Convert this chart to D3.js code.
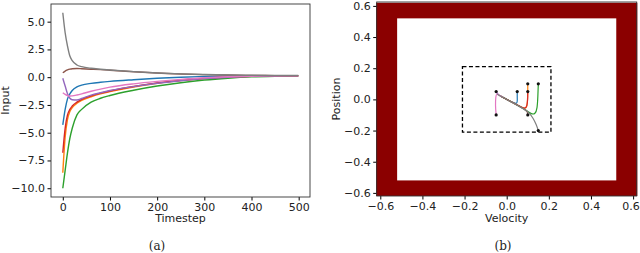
<!DOCTYPE html>
<html>
<head>
<meta charset="utf-8">
<script src="https://cdn.jsdelivr.net/npm/d3@7"></script>
<style>
  body { margin: 0; background: #fff; }
  svg { display: block; }
  .tick text { font-family: "DejaVu Sans", sans-serif; font-size: 11px; fill: #222; }
  .lbl { font-family: "DejaVu Sans", sans-serif; font-size: 11px; fill: #222; }
  .cap { font-family: "DejaVu Serif", serif; font-size: 12px; fill: #222; }
</style>
</head>
<body>
<svg id="fig" width="640" height="253"></svg>
<script>
// ---- panel (a): input over timesteps
const steps = [0, 5, 10, 15, 20, 30, 40, 60, 80, 100, 150, 200, 250, 300, 350, 400, 450, 499];
const inBlue   = [-4.3, -2.9, -1.95, -1.5, -1.2, -0.88, -0.72, -0.56, -0.46, -0.38, -0.23, -0.1, 0.0, 0.06, 0.1, 0.12, 0.13, 0.14];
const inOrange = [-8.6, -5.4, -3.8, -3.1, -2.75, -2.35, -2.08, -1.76, -1.5, -1.3, -0.88, -0.55, -0.31, -0.13, 0.0, 0.08, 0.11, 0.13];
const inGreen  = [-10.0, -8.4, -6.8, -5.5, -4.6, -3.4, -2.9, -2.25, -1.9, -1.65, -1.18, -0.8, -0.5, -0.26, -0.09, 0.03, 0.09, 0.12];
const inRed    = [-6.8, -4.6, -3.4, -2.9, -2.6, -2.25, -2.0, -1.68, -1.44, -1.24, -0.84, -0.51, -0.29, -0.11, 0.02, 0.08, 0.11, 0.13];
const inPurple = [-0.1, -0.8, -1.5, -1.9, -2.03, -2.05, -1.92, -1.62, -1.4, -1.2, -0.85, -0.55, -0.32, -0.13, 0.0, 0.07, 0.11, 0.13];
const inBrown  = [0.4, 0.55, 0.65, 0.72, 0.76, 0.78, 0.76, 0.72, 0.68, 0.63, 0.49, 0.37, 0.29, 0.23, 0.19, 0.16, 0.14, 0.13];
const inPink   = [-1.4, -1.55, -1.65, -1.7, -1.68, -1.6, -1.5, -1.27, -1.07, -0.9, -0.6, -0.38, -0.2, -0.05, 0.04, 0.09, 0.12, 0.13];
const inGray   = [5.8, 4.0, 2.8, 1.9, 1.5, 1.1, 0.95, 0.8, 0.72, 0.65, 0.5, 0.38, 0.3, 0.24, 0.2, 0.17, 0.15, 0.15];
const inTicksX = [0, 100, 200, 300, 400, 500];
const inTicksY = [5.0, 2.5, 0.0, -2.5, -5.0, -7.5, -10.0];

// ---- panel (b): phase trajectories [velocity, position]
const trBlue   = [[0.05, 0.05], [0.05, 0.0], [0.051, -0.03], [0.03, -0.022], [-0.03, 0.022]];
const trOrange = [[0.1, 0.1], [0.1, 0.02], [0.097, -0.045], [0.09, -0.064], [0.05, -0.036], [-0.03, 0.022]];
const trGreen  = [[0.15, 0.1], [0.148, 0.02], [0.145, -0.06], [0.135, -0.095], [0.118, -0.095], [0.095, -0.072], [0.05, -0.036], [-0.03, 0.022]];
const trRed    = [[0.1, 0.05], [0.1, 0.0], [0.096, -0.045], [0.088, -0.063], [0.05, -0.036], [-0.03, 0.022]];
const trPurple = [[-0.05, 0.05], [-0.04, 0.03], [-0.03, 0.022]];
const trBrown  = [[0.1, -0.1], [0.1, -0.085], [0.092, -0.068], [0.05, -0.036], [-0.03, 0.022]];
const trPink   = [[-0.05, -0.1], [-0.054, -0.04], [-0.052, 0.02], [-0.048, 0.038], [-0.035, 0.027], [-0.02, 0.015]];
const trGray   = [[0.15, -0.2], [0.14, -0.16], [0.125, -0.12], [0.108, -0.088], [0.09, -0.067], [0.0, 0.0], [-0.045, 0.033]];
const startVel = [-0.05, -0.05, 0.05, 0.1, 0.1, 0.1, 0.15, 0.15];
const startPos = [0.05, -0.1, 0.05, 0.1, 0.05, -0.1, 0.1, -0.2];
const phTicks = [-0.6, -0.4, -0.2, 0.0, 0.2, 0.4, 0.6];
const wallOuter = 0.62, wallInner = 0.52, dashBox = 0.21;

const colors = ["#1f77b4", "#ff7f0e", "#2ca02c", "#d62728", "#9467bd", "#8c564b", "#e377c2", "#7f7f7f"];
const inSeries = [inBlue, inOrange, inGreen, inRed, inPurple, inBrown, inPink, inGray];
const trSeries = [trBlue, trOrange, trGreen, trRed, trPurple, trBrown, trPink, trGray];

const fmt = d => d3.format(".1f")(d).replace("-", "\u2212");
const svg = d3.select("#fig");

// ===== (a)
const xa = d3.scaleLinear().domain([-25, 524]).range([51, 310]);
const ya = d3.scaleLinear().domain([-10.79, 6.59]).range([197, 4]);

const ga = svg.append("g");
const lineA = d3.line().x((d, i) => xa(steps[i])).y(d => ya(d)).curve(d3.curveMonotoneX);
inSeries.forEach((s, k) => {
  ga.append("path").attr("d", lineA(s)).attr("fill", "none")
    .attr("stroke", colors[k]).attr("stroke-width", 1.4);
});

ga.append("g").attr("transform", "translate(0,197)")
  .call(d3.axisBottom(xa).tickValues(inTicksX).tickSize(3.5).tickPadding(2.5).tickFormat(d3.format("d")));
ga.append("g").attr("transform", "translate(51,0)")
  .call(d3.axisLeft(ya).tickValues(inTicksY).tickSize(3.5).tickPadding(2.5).tickFormat(fmt));
ga.selectAll(".domain").remove();
ga.append("rect").attr("x", 51).attr("y", 4).attr("width", 259).attr("height", 193)
  .attr("fill", "none").attr("stroke", "#333").attr("stroke-width", 0.9);

ga.append("text").attr("class", "lbl").attr("x", 180.5).attr("y", 222)
  .attr("text-anchor", "middle").text("Timestep");
ga.append("text").attr("class", "lbl").attr("transform", "translate(9,100.5) rotate(-90)")
  .attr("text-anchor", "middle").text("Input");
ga.append("text").attr("class", "cap").attr("x", 157).attr("y", 250)
  .attr("text-anchor", "middle").text("(a)");

// ===== (b)
const xb = d3.scaleLinear().domain([-0.617, 0.617]).range([376.7, 636.7]);
const yb = d3.scaleLinear().domain([-0.62, 0.625]).range([196, 2]);
const gb = svg.append("g");

gb.append("rect").attr("x", xb(-wallOuter)).attr("y", yb(wallOuter))
  .attr("width", xb(wallOuter) - xb(-wallOuter)).attr("height", yb(-wallOuter) - yb(wallOuter))
  .attr("fill", "#8b0000");
gb.append("rect").attr("x", xb(-wallInner)).attr("y", yb(wallInner))
  .attr("width", xb(wallInner) - xb(-wallInner)).attr("height", yb(-wallInner) - yb(wallInner))
  .attr("fill", "#fff");
gb.append("rect").attr("x", xb(-dashBox)).attr("y", yb(dashBox))
  .attr("width", xb(dashBox) - xb(-dashBox)).attr("height", yb(-dashBox) - yb(dashBox))
  .attr("fill", "none").attr("stroke", "#000").attr("stroke-width", 1.3).attr("stroke-dasharray", "4,2.5");

const lineB = d3.line().x(d => xb(d[0])).y(d => yb(d[1])).curve(d3.curveBasis);
trSeries.forEach((s, k) => {
  gb.append("path").attr("d", lineB(s)).attr("fill", "none")
    .attr("stroke", colors[k]).attr("stroke-width", 1.2);
});
gb.selectAll("circle.start").data(startVel).enter().append("circle")
  .attr("cx", d => xb(d)).attr("cy", (d, i) => yb(startPos[i])).attr("r", 1.6).attr("fill", "#111");

const xAxB = gb.append("g").attr("transform", "translate(0,196)")
  .call(d3.axisBottom(xb).tickValues(phTicks).tickSize(3.5).tickPadding(2.5).tickFormat(fmt));
// last label sits at the page edge, nudge it in a bit
xAxB.selectAll(".tick text").filter(d => d === 0.6).attr("dx", -2.5);
gb.append("g").attr("transform", "translate(376.7,0)")
  .call(d3.axisLeft(yb).tickValues(phTicks).tickSize(3.5).tickPadding(2.5).tickFormat(fmt));
gb.selectAll(".domain").remove();
gb.append("rect").attr("x", 376.7).attr("y", 2).attr("width", 260).attr("height", 194)
  .attr("fill", "none").attr("stroke", "#333").attr("stroke-width", 0.9);

gb.append("text").attr("class", "lbl").attr("x", 506.7).attr("y", 222)
  .attr("text-anchor", "middle").text("Velocity");
gb.append("text").attr("class", "lbl").attr("transform", "translate(340,99) rotate(-90)")
  .attr("text-anchor", "middle").text("Position");
gb.append("text").attr("class", "cap").attr("x", 503).attr("y", 250)
  .attr("text-anchor", "middle").text("(b)");
</script>
</body>
</html>
